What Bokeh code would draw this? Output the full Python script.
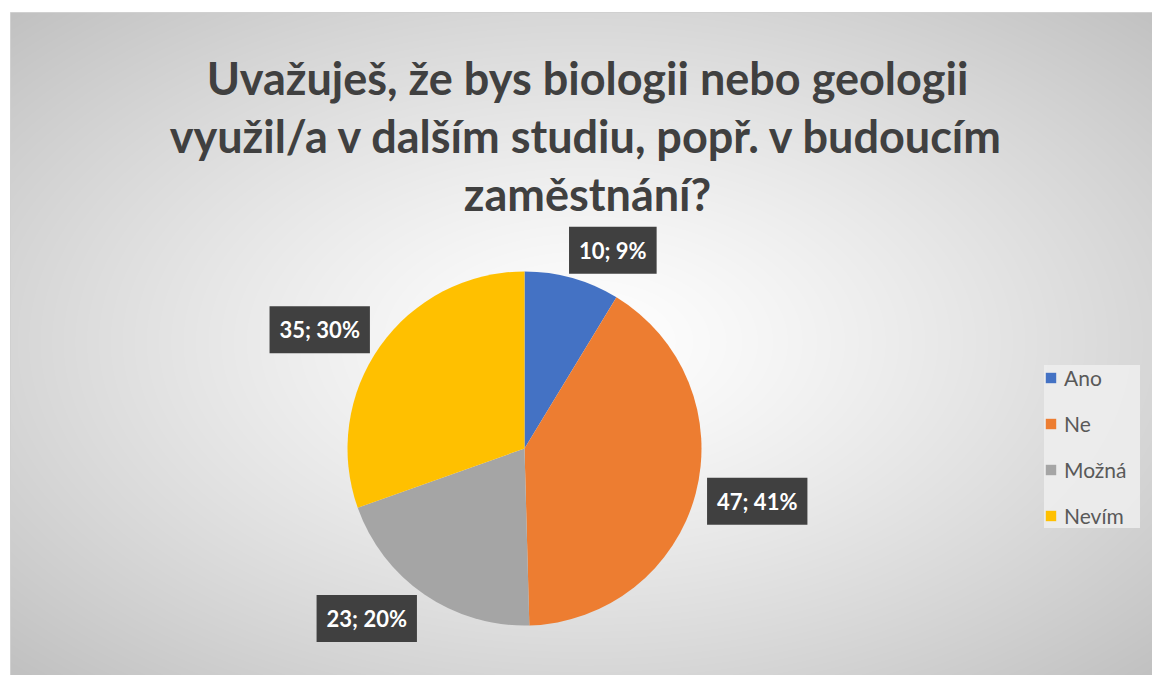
import math
import numpy as np
from bokeh.plotting import figure
from bokeh.models import (ColumnDataSource, Range1d, Label, Legend, LegendItem)
from bokeh.embed import file_html
from bokeh.resources import INLINE

# ---- data ----
CATEGORIES = ["Ano", "Ne", "Možná", "Nevím"]
COUNTS = [10, 47, 23, 35]
COLORS = ["#4472C4", "#ED7D31", "#A5A5A5", "#FFC000"]
TITLE_LINES = ["Uvažuješ, že bys biologii nebo geologii",
               "využil/a v dalším studiu, popř. v budoucím",
               "zaměstnání?"]

W, H = 1152, 675
FONT = "Lato"

p = figure(width=W, height=H, output_backend="svg", toolbar_location=None,
           x_range=Range1d(0, W), y_range=Range1d(0, H),
           min_border=0, border_fill_color="white", background_fill_color="white")
p.axis.visible = False
p.grid.visible = False
p.outline_line_color = None

# ---- background gradient (chart area) ----
bx0, bw, bh = 10, 1142, 663
yy, xx = np.mgrid[0:bh, 0:bw]
cx, cy = 575.0, bh - 330.0
d = np.sqrt(((xx - cx) / 571.0) ** 2 + ((yy - cy) / 332.0) ** 2) / math.sqrt(2)
d = np.clip(d, 0, 1)
lum = (255 - 62 * d ** 1.25).astype(np.uint32)
img = (255 << 24) | (lum << 16) | (lum << 8) | lum
p.image_rgba(image=[img.astype(np.uint32)], x=bx0, y=0, dw=bw, dh=bh)
p.rect(x=bx0 + bw / 2, y=bh / 2, width=bw, height=bh, fill_color=None,
       line_color="#d0d0d0", line_width=1)

# ---- pie ----
total = sum(COUNTS)
cxp, cyp, R = 524, 227, 177
starts, ends, mids = [], [], []
acc = 0.0
for c in COUNTS:
    a0 = math.pi / 2 - 2 * math.pi * acc / total
    acc += c
    a1 = math.pi / 2 - 2 * math.pi * acc / total
    starts.append(a1)
    ends.append(a0)
    mids.append((a0 + a1) / 2)

src = ColumnDataSource(dict(cat=CATEGORIES, start=starts, end=ends, color=COLORS,
                            x=[cxp] * len(COUNTS), y=[cyp] * len(COUNTS)))
wr = p.wedge(x="x", y="y", radius=R, start_angle="start", end_angle="end",
             fill_color="color", line_color=None, source=src)

# ---- data labels (outside end) ----
pad, hw, hh = 10, 52, 19
for cnt, m in zip(COUNTS, mids):
    pct = round(100 * cnt / total)
    txt = f"{cnt}; {pct}%"
    c, s = math.cos(m), math.sin(m)
    lx = cxp + c * (R + pad) + hw * max(-1.0, min(1.0, 2.7 * c))
    ly = cyp + s * (R + pad) + hh * s
    shadow = Label(x=lx, y=ly, text=txt, text_align="center", text_baseline="middle",
                   text_font=FONT, text_font_style="bold", text_font_size="22px",
                   text_alpha=0, background_fill_color="#000000", background_fill_alpha=0.16,
                   padding=10, x_offset=3, y_offset=-4)
    lab = Label(x=lx, y=ly, text=txt, text_align="center", text_baseline="middle",
                text_font=FONT, text_font_style="bold", text_font_size="22px",
                text_color="white", background_fill_color="#404040",
                background_fill_alpha=1, padding=10)
    p.add_layout(shadow)
    p.add_layout(lab)

# ---- title ----
baselines = [H - 77, H - 135, H - 193]
for line, by in zip(TITLE_LINES, baselines):
    p.add_layout(Label(x=587, y=by, text=line, text_align="center",
                       text_baseline="alphabetic", text_font=FONT,
                       text_font_style="bold", text_font_size="45px",
                       text_color="#404040"))

# ---- legend ----
items = [LegendItem(label=c, renderers=[wr], index=i) for i, c in enumerate(CATEGORIES)]
legend = Legend(items=items, location=(1044, 147), orientation="vertical",
                label_text_font=FONT, label_text_font_size="21px",
                label_text_color="#595959", glyph_width=13, glyph_height=13,
                label_standoff=7, label_height=23, label_width=76, spacing=21,
                padding=11, margin=0,
                background_fill_color="#eeeeee", background_fill_alpha=0.85,
                border_line_color=None)
p.add_layout(legend)

open("out.html", "w").write(file_html(p, INLINE))
